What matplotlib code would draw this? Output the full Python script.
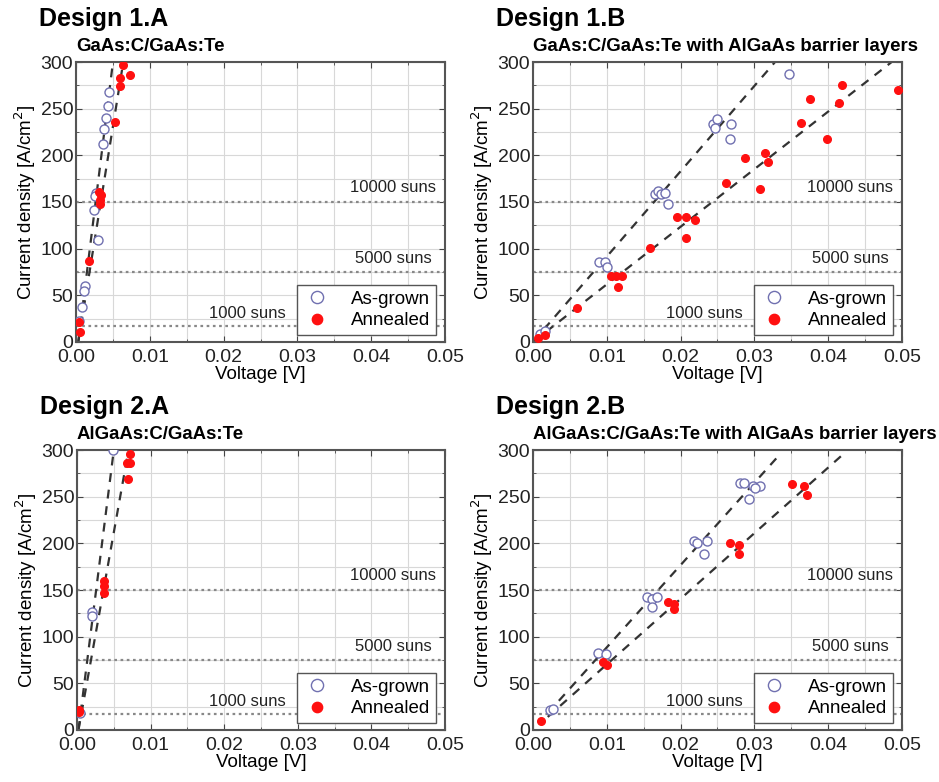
import matplotlib as mpl
mpl.use('Agg')
import matplotlib.pyplot as plt
from matplotlib.ticker import MultipleLocator

plt.rcParams['font.family'] = ['Liberation Sans', 'DejaVu Sans']

# ---- data ----
# Design 1.A : GaAs:C/GaAs:Te
v1a_grown = [0.0045, 0.0043, 0.0040, 0.0038, 0.0036, 0.0027, 0.0025, 0.0024, 0.0030, 0.0012, 0.0011, 0.0008, 0.0004]
j1a_grown = [268, 253, 240, 228, 212, 160, 156, 141, 109, 60, 55, 37, 22]
v1a_ann = [0.0063, 0.0073, 0.0060, 0.0060, 0.0053, 0.0031, 0.0034, 0.0033, 0.0032, 0.0017, 0.0004, 0.0005]
j1a_ann = [297, 286, 283, 274, 236, 161, 158, 152, 148, 87, 21, 11]
fit1a_v = [[0.0003, 0.0050], [0.0003, 0.0064]]
fit1a_j = [[0, 300], [0, 300]]

# Design 1.B : GaAs:C/GaAs:Te with AlGaAs barrier layers
v1b_grown = [0.0347, 0.0244, 0.0249, 0.0247, 0.0268, 0.0267, 0.0165, 0.0170, 0.0174, 0.0179, 0.0183,
             0.0090, 0.0097, 0.0100, 0.0009, 0.0016]
j1b_grown = [287, 234, 239, 229, 234, 217, 159, 162, 159, 160, 148, 86, 86, 80, 9, 12]
v1b_ann = [0.0494, 0.0419, 0.0414, 0.0376, 0.0363, 0.0398, 0.0314, 0.0319, 0.0287, 0.0307, 0.0262,
           0.0195, 0.0207, 0.0219, 0.0207, 0.0158, 0.0106, 0.0113, 0.0120, 0.0115, 0.0059, 0.0016, 0.0007]
j1b_ann = [270, 275, 256, 260, 235, 217, 202, 193, 197, 164, 170, 134, 134, 131, 111, 101,
           71, 71, 71, 59, 36, 7, 4]
fit1b_v = [[0.0, 0.0328], [0.0, 0.0486]]
fit1b_j = [[0, 300], [0, 300]]

# Design 2.A : AlGaAs:C/GaAs:Te
v2a_grown = [0.0049, 0.0021, 0.0020, 0.0004]
j2a_grown = [300, 126, 122, 18]
v2a_ann = [0.0072, 0.0068, 0.0072, 0.0069, 0.0036, 0.0036, 0.0036, 0.0003, 0.0003]
j2a_ann = [296, 286, 286, 269, 160, 154, 147, 21, 19]
fit2a_v = [[0.0002, 0.0050], [0.0002, 0.0070]]
fit2a_j = [[0, 300], [0, 300]]

# Design 2.B : AlGaAs:C/GaAs:Te with AlGaAs barrier layers
v2b_grown = [0.0281, 0.0286, 0.0298, 0.0308, 0.0301, 0.0293, 0.0218, 0.0222, 0.0236, 0.0232,
             0.0154, 0.0161, 0.0168, 0.0161, 0.0088, 0.0099, 0.0023, 0.0027]
j2b_grown = [265, 265, 262, 262, 259, 247, 203, 200, 202, 189, 143, 140, 142, 132, 83, 81, 21, 23]
v2b_ann = [0.0351, 0.0367, 0.0371, 0.0267, 0.0279, 0.0279, 0.0183, 0.0191, 0.0191, 0.0095, 0.0100, 0.0011]
j2b_ann = [264, 261, 252, 200, 198, 189, 137, 135, 130, 73, 70, 10]
fit2b_v = [[0.0020, 0.0333], [0.0020, 0.0421]]
fit2b_j = [[18, 294], [14, 296]]

# sun levels
sun_j = [150, 75, 17]
sun_lbl = ['10000 suns', '5000 suns', '1000 suns']

panels = [
    ('Design 1.A', 'GaAs:C/GaAs:Te', v1a_grown, j1a_grown, v1a_ann, j1a_ann, fit1a_v, fit1a_j),
    ('Design 1.B', 'GaAs:C/GaAs:Te with AlGaAs barrier layers', v1b_grown, j1b_grown, v1b_ann, j1b_ann, fit1b_v, fit1b_j),
    ('Design 2.A', 'AlGaAs:C/GaAs:Te', v2a_grown, j2a_grown, v2a_ann, j2a_ann, fit2a_v, fit2a_j),
    ('Design 2.B', 'AlGaAs:C/GaAs:Te with AlGaAs barrier layers', v2b_grown, j2b_grown, v2b_ann, j2b_ann, fit2b_v, fit2b_j),
]

# axes boxes in figure fraction
boxes = [(0.081, 0.5627, 0.393, 0.358),
         (0.5676, 0.5627, 0.393, 0.358),
         (0.082, 0.0665, 0.392, 0.358),
         (0.5676, 0.0665, 0.393, 0.358)]

fig = plt.figure(figsize=(9.39, 7.82), dpi=100)

for (title, sub, vg, jg, va, ja, fv, fj), box in zip(panels, boxes):
    ax = fig.add_axes(box)
    ax.set_xlim(0, 0.05)
    ax.set_ylim(0, 300)
    ax.xaxis.set_major_locator(MultipleLocator(0.01))
    ax.xaxis.set_minor_locator(MultipleLocator(0.005))
    ax.yaxis.set_major_locator(MultipleLocator(50))
    ax.yaxis.set_minor_locator(MultipleLocator(25))
    ax.xaxis.set_major_formatter(mpl.ticker.FormatStrFormatter('%.2f'))
    ax.grid(True, which='both', color='#d8d8d8', linewidth=0.8)
    ax.set_axisbelow(True)
    ax.tick_params(which='both', direction='in', top=True, right=True, labelsize=14,
                   color='#444444', labelcolor='#222222')
    ax.tick_params(axis='x', which='major', pad=5)
    ax.tick_params(axis='y', which='major', pad=2)
    ax.tick_params(which='major', length=4)
    ax.tick_params(which='minor', length=2)
    for s in ax.spines.values():
        s.set_linewidth(1.5)
        s.set_color('#555555')

    # sun level lines
    for j, lbl in zip(sun_j, sun_lbl):
        ax.axhline(j, color='#888888', linestyle=(0, (1.2, 1.6)), linewidth=1.6, zorder=1)
    ax.text(0.0488, 166, sun_lbl[0], ha='right', va='center', fontsize=12, color='#222222')
    ax.text(0.0482, 89, sun_lbl[1], ha='right', va='center', fontsize=12, color='#222222')
    ax.text(0.0232, 31, sun_lbl[2], ha='center', va='center', fontsize=12, color='#222222')

    # fit lines
    for xx, yy in zip(fv, fj):
        ax.plot(xx, yy, color='#333333', linestyle=(0, (4, 3.5)), linewidth=1.6, zorder=2)

    ax.plot(vg, jg, 'o', mfc='white', mec='#7070b0', mew=1.0, ms=6.5, label='As-grown', zorder=3)
    ax.plot(va, ja, 'o', mfc='#ff1010', mec='#ff1010', ms=5.5, label='Annealed', zorder=4)

    leg = ax.legend(loc='lower right', bbox_to_anchor=(0.975, 0.025), borderaxespad=0,
                    fontsize=13.5, fancybox=False, framealpha=1, edgecolor='#555555',
                    handletextpad=1.0, borderpad=0.3, labelspacing=0.25, handlelength=1.6,
                    markerscale=1.35)
    leg.get_frame().set_linewidth(1.0)

    ax.set_xlabel('Voltage [V]', fontsize=13.5, labelpad=0)
    ax.set_ylabel('Current density [A/cm$^2$]', fontsize=13.5, labelpad=2)

    ax.text(0.0, 1.025, sub, transform=ax.transAxes, fontsize=13.4, fontweight='bold',
            ha='left', va='bottom')
    ax.text(-0.1, 1.11, title, transform=ax.transAxes, fontsize=18, fontweight='bold',
            ha='left', va='bottom')

fig.savefig('out.png', dpi=100)
